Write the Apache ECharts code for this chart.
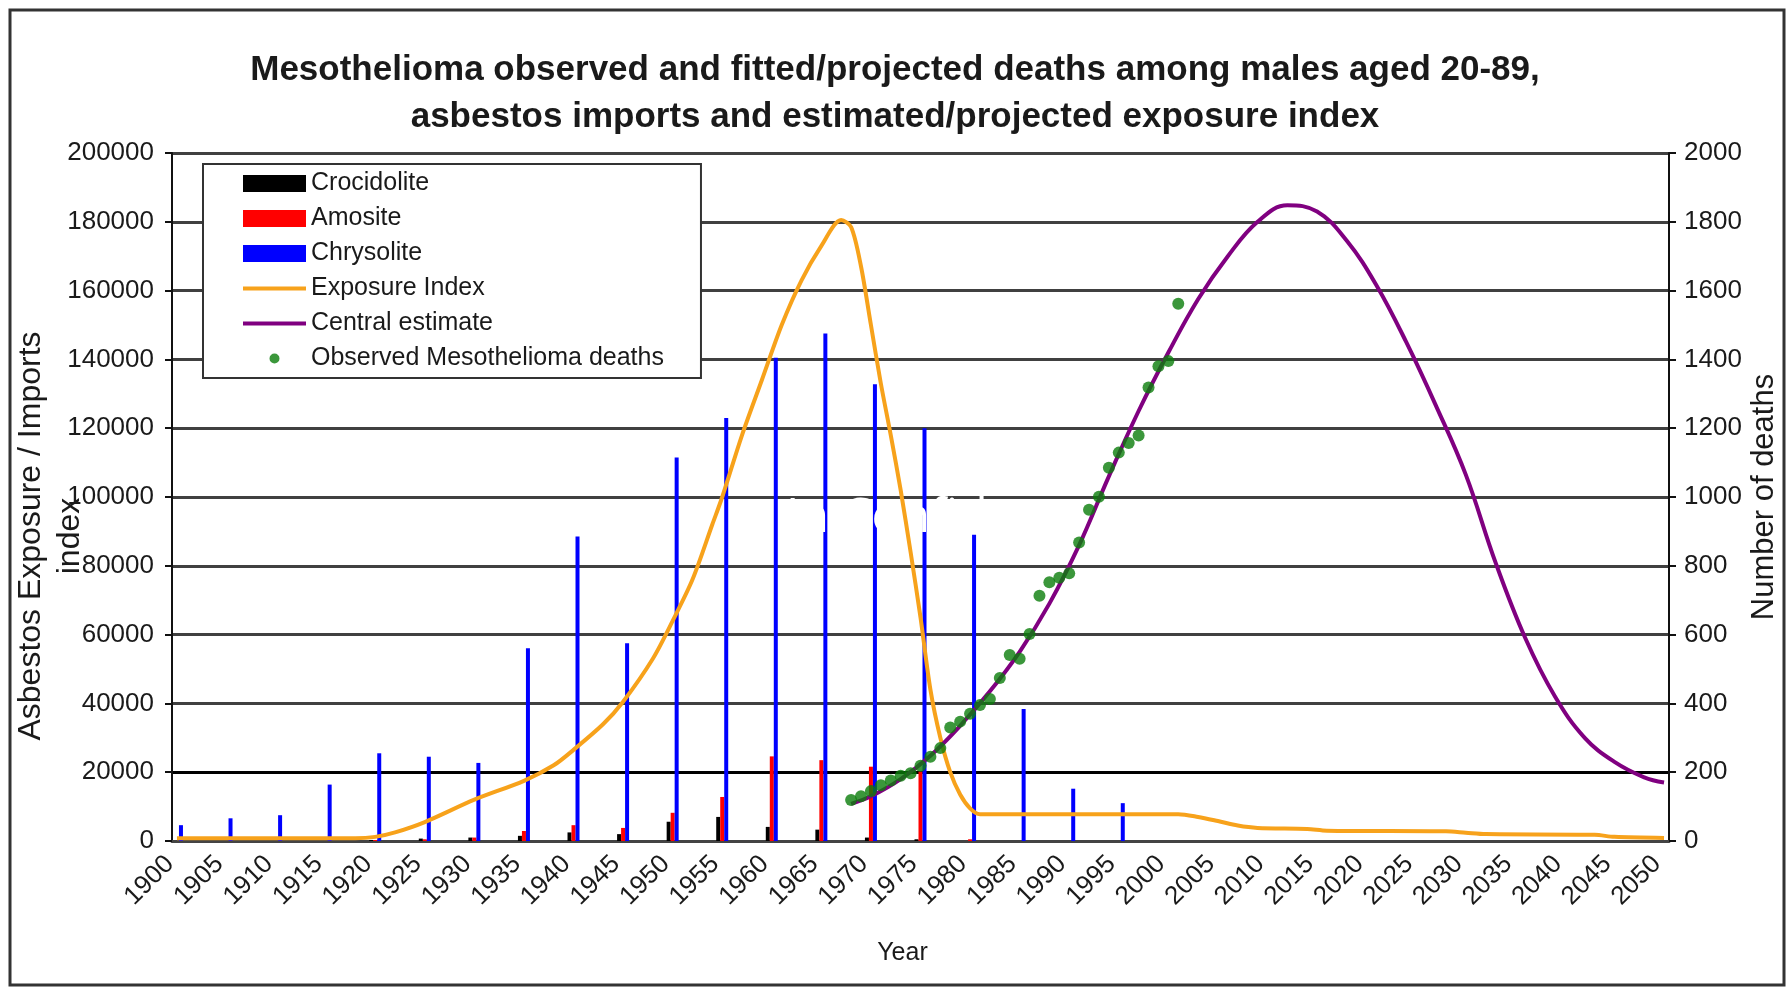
<!DOCTYPE html>
<html>
<head>
<meta charset="utf-8">
<script src="https://cdn.jsdelivr.net/npm/echarts/dist/echarts.min.js"></script>
<style>
  html, body { margin: 0; padding: 0; background: #fff; }
  #main { width: 1790px; height: 989px; }
</style>
</head>
<body>
<div id="main"></div>
<script>
// year categories on the x axis
const years = [];
for (let y = 1900; y <= 2050; y++) years.push(String(y));

// imports by fibre type, one bar group every 5 years
const barYears = [1900, 1905, 1910, 1915, 1920, 1925, 1930, 1935, 1940, 1945,
  1950, 1955, 1960, 1965, 1970, 1975, 1980, 1985, 1990, 1995];
const crocidolite = [0, 0, 0, 0, 300, 700, 1000, 1500, 2500, 2000,
  5600, 7000, 4100, 3300, 1000, 500, 0, 0, 0, 0];
const amosite = [0, 0, 0, 0, 300, 500, 1000, 2900, 4600, 3800,
  8200, 12800, 24600, 23500, 21600, 20200, 500, 0, 0, 0];
const chrysolite = [4600, 6600, 7500, 16400, 25500, 24500, 22700, 56000, 88500, 57500,
  111500, 123000, 140500, 147500, 132800, 120000, 89000, 38400, 15200, 11000];

// exposure index (left axis)
const exposureYears = [1900, 1910, 1918, 1920, 1922, 1925, 1930, 1935, 1938, 1940,
  1943, 1945, 1948, 1950, 1952, 1954, 1955, 1957, 1959, 1961,
  1963, 1965, 1967, 1968, 1969, 1970, 1971, 1972, 1973, 1974,
  1975, 1976, 1977, 1978, 1979, 1980, 1981, 1990, 2001, 2003,
  2005, 2007, 2009, 2014, 2016, 2028, 2030, 2032, 2043, 2045, 2050];
const exposure = [800, 800, 800, 1200, 2500, 5500, 12000, 17500, 22000, 26500,
  34000, 40500, 53000, 64000, 76000, 92000, 100000, 118000, 134000, 150000,
  163000, 173000, 180500, 178500, 167000, 150000, 133000, 118000, 102000, 84000,
  65000, 44000, 30000, 20000, 13500, 9500, 7800, 7800, 7800, 7000,
  5800, 4500, 3800, 3500, 3000, 2800, 2400, 2000, 1800, 1200, 900];

// central estimate of deaths (right axis)
const centralYears = [1968, 1970, 1973, 1976, 1979, 1982, 1985, 1988, 1991, 1994,
  1997, 2000, 2003, 2006, 2009, 2012, 2015, 2018, 2021, 2024,
  2027, 2030, 2033, 2036, 2039, 2042, 2045, 2048, 2050];
const central = [108, 130, 180, 248, 335, 435, 550, 690, 860, 1060,
  1250, 1420, 1575, 1700, 1800, 1848, 1830, 1745, 1615, 1450,
  1265, 1065, 810, 590, 420, 300, 230, 185, 170];

// observed deaths (right axis)
const observedYears = [1968, 1969, 1970, 1971, 1972, 1973, 1974, 1975, 1976, 1977,
  1978, 1979, 1980, 1981, 1982, 1983, 1984, 1985, 1986, 1987,
  1988, 1989, 1990, 1991, 1992, 1993, 1994, 1995, 1996, 1997,
  1998, 1999, 2000, 2001];
const observed = [119, 130, 145, 162, 176, 190, 197, 219, 245, 270,
  330, 347, 370, 395, 413, 474, 541, 530, 602, 713,
  752, 765, 778, 868, 963, 1001, 1085, 1129, 1157, 1179,
  1318, 1380, 1395, 1562];

const leftTicks = 20000;
const rightTicks = 200;

function pairs(xs, vs) {
  return xs.map((x, i) => [String(x), vs[i]]);
}

const txt = '#1a1a1a';
const font = 'Liberation Sans, Arial, sans-serif';
const lineIcon = 'path://M0,0H63V4H0Z';

const chart = echarts.init(document.getElementById('main'));

chart.setOption({
  backgroundColor: '#ffffff',
  animation: false,
  title: {
    text: 'Mesothelioma observed and fitted/projected deaths among males aged 20-89,\nasbestos imports and estimated/projected exposure index',
    left: 'center',
    top: 42,
    padding: [5, 5, 5, 19],
    textStyle: { fontFamily: font, fontSize: 35, fontWeight: 'bold', color: txt, lineHeight: 47 }
  },
  legend: {
    orient: 'vertical',
    left: 203,
    top: 164,
    padding: [7, 37, 7, 40],
    itemWidth: 63,
    itemHeight: 17,
    itemGap: 10,
    backgroundColor: '#ffffff',
    borderColor: '#333333',
    borderWidth: 2,
    borderRadius: 0,
    textStyle: { fontFamily: font, fontSize: 25, color: txt },
    data: [
      { name: 'Crocidolite', icon: 'rect' },
      { name: 'Amosite', icon: 'rect' },
      { name: 'Chrysolite', icon: 'rect' },
      { name: 'Exposure Index', icon: lineIcon },
      { name: 'Central estimate', icon: lineIcon },
      { name: 'Observed Mesothelioma deaths',
        icon: 'path://M0,0L0.01,0M63,17L62.99,17M26.5,8.5A5,5,0,1,0,36.5,8.5A5,5,0,1,0,26.5,8.5Z' }
    ]
  },
  grid: { left: 172, right: 121, top: 153, bottom: 148, containLabel: false, outerBoundsMode: 'none' },
  xAxis: {
    type: 'category',
    data: years,
    boundaryGap: true,
    name: 'Year',
    nameLocation: 'middle',
    nameGap: 100,
    nameMoveOverlap: false,
    nameTextStyle: { fontFamily: font, fontSize: 25, color: txt, padding: [0, 36, 0, 0] },
    axisLine: { lineStyle: { color: '#444', width: 3 } },
    axisTick: { show: false },
    axisLabel: {
      interval: 4, rotate: 45, margin: 12, padding: [0, 10, 0, 0],
      fontFamily: font, fontSize: 26, color: txt, hideOverlap: false
    },
    splitLine: { show: false }
  },
  yAxis: [
    {
      type: 'value',
      min: 0,
      max: 200000,
      interval: leftTicks,
      name: 'Asbestos Exposure / Imports\nindex',
      nameLocation: 'middle',
      nameGap: 82,
      nameRotate: 90,
      nameMoveOverlap: false,
      nameTextStyle: { fontFamily: font, fontSize: 32, color: txt, lineHeight: 39, padding: [0, 78, 0, 0] },
      axisLine: { show: true, lineStyle: { color: '#111', width: 2 } },
      axisTick: { show: true, length: 7, lineStyle: { color: '#111', width: 2 } },
      axisLabel: { margin: 18, fontFamily: font, fontSize: 26, color: txt, formatter: v => String(v) },
      splitLine: {
        show: true,
        lineStyle: {
          width: 3,
          color: ['#404040', '#000000', '#404040', '#404040', '#404040', '#404040',
            '#404040', '#404040', '#404040', '#404040', '#404040']
        }
      }
    },
    {
      type: 'value',
      min: 0,
      max: 2000,
      interval: rightTicks,
      position: 'right',
      name: 'Number of deaths',
      nameLocation: 'middle',
      nameGap: 80,
      nameRotate: 90,
      nameMoveOverlap: false,
      nameTextStyle: { fontFamily: font, fontSize: 31, color: txt },
      axisLine: { show: true, lineStyle: { color: '#111', width: 2 } },
      axisTick: { show: true, length: 7, lineStyle: { color: '#111', width: 2 } },
      axisLabel: { margin: 15, fontFamily: font, fontSize: 26, color: txt, formatter: v => String(v) },
      splitLine: { show: false }
    }
  ],
  graphic: [
    {
      type: 'rect',
      z: 200,
      silent: true,
      shape: { x: 10, y: 10, width: 1774, height: 975 },
      style: { fill: 'none', stroke: '#333333', lineWidth: 3 }
    },
    {
      // white watermark: over the bars and grid, under the lines and dots
      type: 'text',
      z: 1.5,
      silent: true,
      left: 786,
      top: 494,
      style: { text: 'In Confidence', fill: '#ffffff', font: '48px "Open Sans", sans-serif' }
    }
  ],
  series: [
    {
      name: 'Crocidolite',
      type: 'bar',
      z: 1,
      barWidth: 4,
      barGap: '0%',
      itemStyle: { color: '#000000' },
      data: pairs(barYears, crocidolite)
    },
    {
      name: 'Amosite',
      type: 'bar',
      z: 1,
      barWidth: 4,
      barGap: '0%',
      itemStyle: { color: '#ff0000' },
      data: pairs(barYears, amosite)
    },
    {
      name: 'Chrysolite',
      type: 'bar',
      z: 1,
      barWidth: 4,
      barGap: '0%',
      itemStyle: { color: '#0000ff' },
      data: pairs(barYears, chrysolite)
    },
    {
      name: 'Exposure Index',
      type: 'line',
      z: 2,
      smooth: 0.3,
      symbol: 'none',
      lineStyle: { color: '#f7a21b', width: 4 },
      itemStyle: { color: '#f7a21b' },
      data: pairs(exposureYears, exposure)
    },
    {
      name: 'Central estimate',
      type: 'line',
      z: 2,
      yAxisIndex: 1,
      smooth: 0.4,
      symbol: 'none',
      lineStyle: { color: '#800080', width: 4 },
      itemStyle: { color: '#800080' },
      data: pairs(centralYears, central)
    },
    {
      name: 'Observed Mesothelioma deaths',
      type: 'scatter',
      z: 3,
      yAxisIndex: 1,
      symbol: 'circle',
      symbolSize: 12,
      itemStyle: { color: '#0a7d0a' },
      data: pairs(observedYears, observed)
    }
  ]
});
</script>
</body>
</html>
